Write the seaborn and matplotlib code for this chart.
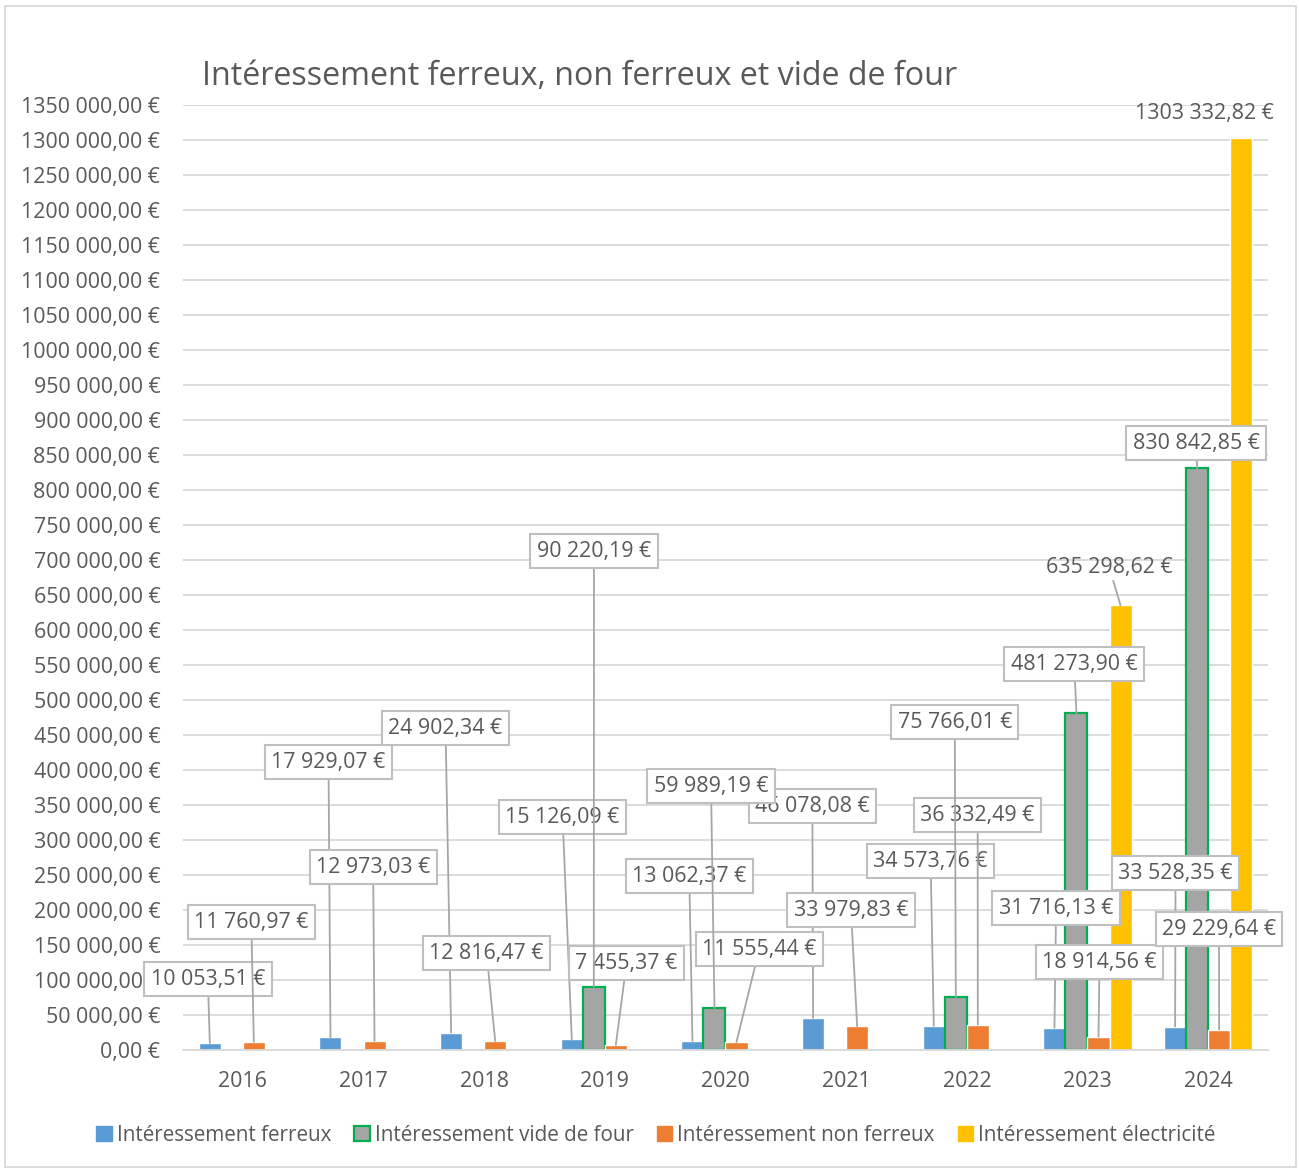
import numpy as np
import pandas as pd
import seaborn as sns
import matplotlib.pyplot as plt
from matplotlib.patches import Rectangle, Patch

# Data
years = ['2016', '2017', '2018', '2019', '2020', '2021', '2022', '2023', '2024']
ferreux = [10053.51, 17929.07, 24902.34, 15126.09, 13062.37, 46078.08, 34573.76, 31716.13, 33528.35]
vide_four = [np.nan, np.nan, np.nan, 90220.19, 59989.19, np.nan, 75766.01, 481273.90, 830842.85]
non_ferreux = [11760.97, 12973.03, 12816.47, 7455.37, 11555.44, 33979.83, 36332.49, 18914.56, 29229.64]
electricite = [np.nan] * 7 + [635298.62, 1303332.82]

series = ['Intéressement ferreux', 'Intéressement vide de four',
          'Intéressement non ferreux', 'Intéressement électricité']
colors = ['#5B9BD5', '#A5A5A5', '#ED7D31', '#FFC000']

# label box positions (category position, value) as placed in the original
label_pos = {
    'Intéressement ferreux': [(-0.29, 101400), (0.71, 411400), (1.68, 460000), (2.65, 332900),
                              (3.70, 248600), (4.72, 348600), (5.70, 270000), (6.74, 202900),
                              (7.73, 252900)],
    'Intéressement non ferreux': [(0.07, 182900), (1.08, 261400), (2.02, 138600), (3.18, 124300),
                                  (4.28, 144300), (5.04, 200000), (6.09, 335700), (7.10, 125700),
                                  (8.09, 172900)],
    'Intéressement vide de four': [None, None, None, (2.91, 712900), (3.88, 377100), None,
                                   (5.90, 468600), (6.89, 551400), (7.90, 867100)],
    'Intéressement électricité': [None] * 7 + [(7.18, 690000), (7.97, 1338600)],
}

values = dict(zip(series, [ferreux, vide_four, non_ferreux, electricite]))
df = pd.DataFrame([(y, s, v) for s in series for y, v in zip(years, values[s])],
                  columns=['annee', 'serie', 'montant']).dropna()


def euro(v):
    ip = int(v)
    cents = int(round((v - ip) * 100))
    if cents == 100:
        ip, cents = ip + 1, 0
    if ip >= 1000:
        s = f"{ip // 1000} {ip % 1000:03d}"
    else:
        s = str(ip)
    return f"{s},{cents:02d} €"


sns.set_style('white')
plt.rcParams['font.family'] = ['Open Sans', 'DejaVu Sans']
txt = '#595959'
fs = 15.4

fig = plt.figure(figsize=(12.99, 11.71), dpi=100)
ax = fig.add_axes([0.1405, 0.1033, 0.836, 0.807])

sns.barplot(data=df, x='annee', y='montant', hue='serie', hue_order=series, order=years,
            palette=colors, width=0.73, saturation=1, errorbar=None, legend=False, ax=ax)

for s, cont in zip(series, ax.containers):
    for bar in cont:
        bar.set_zorder(2)
        if s == 'Intéressement vide de four':
            bar.set_edgecolor('#00B050')
            bar.set_linewidth(1.6)

ax.set_ylim(0, 1350000)
ax.set_xlim(-0.5, 8.5)
ax.set_yticks(np.arange(0, 1350001, 50000))
ax.set_yticklabels([euro(v) for v in ax.get_yticks()])
ax.yaxis.grid(True, color='#d9d9d9', lw=1.3)
ax.set_axisbelow(True)
for sp in ['top', 'left', 'right']:
    ax.spines[sp].set_visible(False)
ax.spines['bottom'].set_color('#d9d9d9')
ax.spines['bottom'].set_linewidth(1.3)
ax.tick_params(axis='both', length=0, labelsize=fs, labelcolor=txt)
ax.tick_params(axis='y', pad=16)
ax.tick_params(axis='x', pad=15)
ax.set_xlabel('')
ax.set_ylabel('')

# data labels with leader lines
for s, cont in zip(series, ax.containers):
    for bar in cont:
        cx = bar.get_x() + bar.get_width() / 2
        h = bar.get_height()
        i = int(round(cx))
        pos = label_pos[s][i]
        if pos is None:
            continue
        boxed = s != 'Intéressement électricité'
        bbox = dict(boxstyle='square,pad=0.3', fc='white', ec='#bfbfbf', lw=1.5) if boxed else None
        arrow = dict(arrowstyle='-', color='#a6a6a6', lw=1.3, shrinkA=0, shrinkB=0)
        if s == 'Intéressement électricité' and years[i] == '2024':
            arrow = None
        z = 6 if s == 'Intéressement vide de four' else 5
        ax.annotate(euro(h), xy=(cx, h), xytext=pos, textcoords='data',
                    ha='center', va='center', fontsize=fs, color=txt,
                    bbox=bbox, arrowprops=arrow, zorder=z, annotation_clip=False)

fig.text(0.1555, 0.935, 'Intéressement ferreux, non ferreux et vide de four',
         fontsize=23.2, color=txt, ha='left', va='center')

handles = [Patch(fc=colors[0], ec=colors[0]),
           Patch(fc=colors[1], ec='#00B050', lw=1.6),
           Patch(fc=colors[2], ec=colors[2]),
           Patch(fc=colors[3], ec=colors[3])]
fig.legend(handles, series, loc='center', bbox_to_anchor=(0.505, 0.0307), ncol=4,
           frameon=False, fontsize=14.9, labelcolor=txt, handlelength=0.75,
           handleheight=0.75, handletextpad=0.25, columnspacing=1.1)

fig.patches.append(Rectangle((0.004, 0.003), 0.994, 0.992, transform=fig.transFigure,
                             fill=False, ec='#d9d9d9', lw=1.3))

fig.savefig('out.png', dpi=100)
